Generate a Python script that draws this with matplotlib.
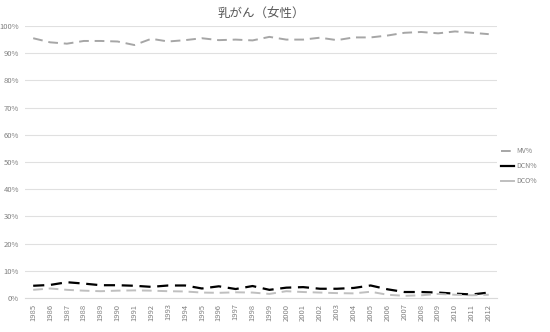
import matplotlib
matplotlib.use("Agg")
import matplotlib.pyplot as plt
from matplotlib.ticker import PercentFormatter
from matplotlib.lines import Line2D

plt.rcParams['font.family'] = ['Noto Sans CJK JP', 'DejaVu Sans']

years = [str(y) for y in range(1985, 2013)]
mv = [95.5, 94.0, 93.5, 94.5, 94.5, 94.3, 93.0, 95.3, 94.3, 94.8, 95.5, 94.8, 95.0, 94.7,
      96.0, 95.0, 95.0, 95.7, 94.8, 95.8, 95.8, 96.5, 97.5, 97.8, 97.3, 98.0, 97.5, 97.0]
dcn = [4.5, 4.8, 5.8, 5.3, 4.7, 4.7, 4.5, 4.1, 4.6, 4.6, 3.5, 4.3, 3.3, 4.4,
       3.0, 3.8, 4.0, 3.4, 3.4, 3.7, 4.6, 3.2, 2.2, 2.2, 2.0, 1.6, 1.3, 2.0]
dco = [3.0, 3.5, 3.0, 2.7, 2.5, 2.7, 2.8, 2.7, 2.5, 2.4, 2.0, 1.9, 2.1, 2.0,
       1.5, 2.5, 2.2, 2.0, 1.8, 1.7, 2.3, 1.2, 0.8, 1.0, 1.5, 1.2, 1.0, 1.2]

fig = plt.figure(figsize=(5.5, 3.32), dpi=100)
ax = fig.add_axes([0.045, 0.1024, 0.859, 0.8193])

x = range(len(years))
ax.plot(x, mv, color='#a6a6a6', lw=1.4, dashes=(5, 3))
ax.plot(x, dcn, color='#000000', lw=1.6, dashes=(5, 3))
ax.plot(x, dco, color='#bfbfbf', lw=1.4, dashes=(5, 3))

ax.set_xlim(-0.5, len(years) - 0.5)
ax.set_ylim(0, 100)
ax.set_yticks(range(0, 101, 10))
ax.yaxis.set_major_formatter(PercentFormatter(decimals=0))
ax.set_xticks(list(x))
ax.set_xticklabels(years, rotation=90)
ax.tick_params(axis='both', length=0, labelsize=5.5, labelcolor='#808080', pad=4)
ax.grid(axis='y', color='#e0e0e0', lw=0.8)
ax.set_axisbelow(True)
for s in ['top', 'right', 'left']:
    ax.spines[s].set_visible(False)
ax.spines['bottom'].set_color('#d9d9d9')

ax.set_title('乳がん（女性）', fontsize=9, color='#595959', pad=6)

handles = [Line2D([], [], color='#a6a6a6', lw=1.4, dashes=(5, 3)),
           Line2D([], [], color='#000000', lw=1.6),
           Line2D([], [], color='#bfbfbf', lw=1.4)]
fig.legend(handles, ['MV%', 'DCN%', 'DCO%'], loc='center left',
           bbox_to_anchor=(0.91, 0.5), frameon=False, fontsize=5,
           labelcolor='#808080', handlelength=2.0, handletextpad=0.2,
           labelspacing=1.0, borderpad=0, borderaxespad=0)

fig.savefig('out.png', dpi=100)
